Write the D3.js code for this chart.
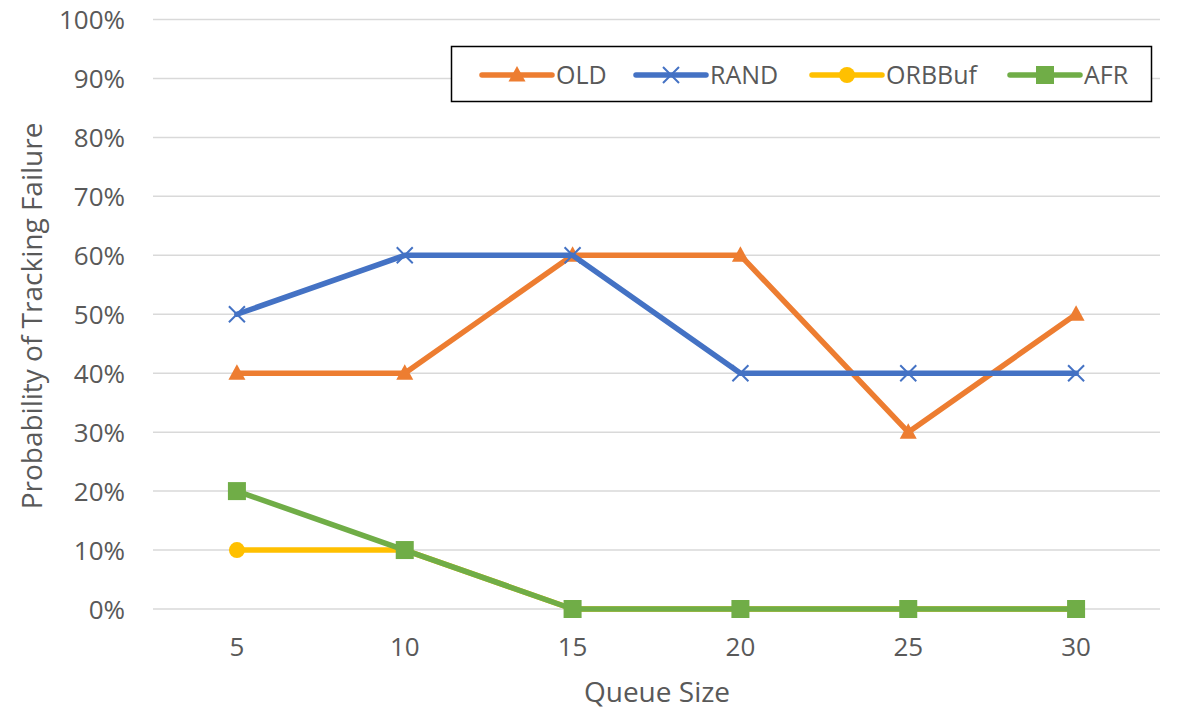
<!DOCTYPE html>
<html>
<head>
<meta charset="utf-8">
<style>
  body { margin: 0; background: #fff; }
  text { font-family: "Open Sans", sans-serif; fill: #595959; }
</style>
</head>
<body>
<div id="chart"></div>
<script src="https://d3js.org/d3.v7.min.js"></script>
<script>

// data
let queue_sizes = ["5", "10", "15", "20", "25", "30"];
let old_vals    = [0.4, 0.4, 0.6, 0.6, 0.3, 0.5];
let rand_vals   = [0.5, 0.6, 0.6, 0.4, 0.4, 0.4];
let orbbuf_vals = [0.1, 0.1, 0.0, 0.0, 0.0, 0.0];
let afr_vals    = [0.2, 0.1, 0.0, 0.0, 0.0, 0.0];
let y_ticks     = [0, 0.1, 0.2, 0.3, 0.4, 0.5, 0.6, 0.7, 0.8, 0.9, 1.0];

let series = [
  {name: "OLD",    values: old_vals,    color: "#ED7D31", marker: "triangle"},
  {name: "RAND",   values: rand_vals,   color: "#4472C4", marker: "x"},
  {name: "ORBBuf", values: orbbuf_vals, color: "#FFC000", marker: "circle"},
  {name: "AFR",    values: afr_vals,    color: "#70AD47", marker: "square"}
];

let width = 1194, height = 714;
let margin = {top: 19.5, right: 34, bottom: 105, left: 153};

let svg = d3.select("#chart")
  .append("svg")
    .attr("width", width)
    .attr("height", height);

let x = d3.scaleBand()
  .domain(queue_sizes)
  .range([margin.left, width - margin.right]);

let y = d3.scaleLinear()
  .domain([0, 1])
  .range([height - margin.bottom, margin.top]);

// gridlines
svg.append("g")
  .selectAll("line")
  .data(y_ticks)
  .enter()
  .append("line")
    .attr("x1", margin.left)
    .attr("x2", width - margin.right)
    .attr("y1", d => y(d))
    .attr("y2", d => y(d))
    .attr("stroke", "#D9D9D9")
    .attr("stroke-width", 1.5);

// y axis labels
let y_axis = svg.append("g")
  .attr("transform", "translate(" + (margin.left - 28) + ",0)")
  .call(d3.axisLeft(y).tickValues(y_ticks).tickFormat(d3.format(".0%")).tickSize(0).tickPadding(0));
y_axis.select(".domain").remove();
y_axis.selectAll("text")
  .style("font-size", "26px")
  .style("font-family", "Open Sans, sans-serif")
  .attr("fill", "#595959")
  .attr("dy", "0.35em");

// x axis labels
let x_axis = svg.append("g")
  .attr("transform", "translate(0," + (height - margin.bottom) + ")")
  .call(d3.axisBottom(x).tickSize(0).tickPadding(29));
x_axis.select(".domain").remove();
x_axis.selectAll("text")
  .style("font-size", "26px")
  .style("font-family", "Open Sans, sans-serif")
  .attr("fill", "#595959");

// axis titles
svg.append("text")
  .attr("x", 657)
  .attr("y", 702)
  .attr("text-anchor", "middle")
  .style("font-size", "28px")
  .text("Queue Size");

svg.append("text")
  .attr("transform", "translate(42,316) rotate(-90)")
  .attr("text-anchor", "middle")
  .style("font-size", "28px")
  .text("Probability of Tracking Failure");

// markers
function drawMarker(g, type, color) {
  if (type == "triangle") {
    g.append("path").attr("d", "M0,-9L8.5,6.5L-8.5,6.5Z").attr("fill", color);
  } else if (type == "x") {
    g.append("path").attr("d", "M-8,-8L8,8M-8,8L8,-8")
      .attr("stroke", color).attr("stroke-width", 2).attr("fill", "none");
  } else if (type == "circle") {
    g.append("circle").attr("r", 8).attr("fill", color);
  } else {
    g.append("rect").attr("x", -9).attr("y", -9).attr("width", 18).attr("height", 18).attr("fill", color);
  }
}

let line = d3.line()
  .x((d, i) => x(queue_sizes[i]) + x.bandwidth() / 2)
  .y(d => y(d));

series.forEach(s => {
  let g = svg.append("g");
  g.append("path")
    .attr("d", line(s.values))
    .attr("fill", "none")
    .attr("stroke", s.color)
    .attr("stroke-width", 5.5)
    .attr("stroke-linejoin", "round")
    .attr("stroke-linecap", "round");
  s.values.forEach((v, i) => {
    let m = g.append("g")
      .attr("transform", "translate(" + (x(queue_sizes[i]) + x.bandwidth() / 2) + "," + y(v) + ")");
    drawMarker(m, s.marker, s.color);
  });
});

// legend
let legend = svg.append("g");
legend.append("rect")
  .attr("x", 451.5).attr("y", 46.5)
  .attr("width", 700).attr("height", 55)
  .attr("fill", "#fff")
  .attr("stroke", "#000")
  .attr("stroke-width", 1.5);

let legend_x = [482, 636, 812, 1010];
series.forEach((s, i) => {
  let lg = legend.append("g").attr("transform", "translate(" + legend_x[i] + ",75)");
  lg.append("line")
    .attr("x1", 0).attr("x2", 70)
    .attr("stroke", s.color)
    .attr("stroke-width", 5.5)
    .attr("stroke-linecap", "round");
  drawMarker(lg.append("g").attr("transform", "translate(35,0)"), s.marker, s.color);
  lg.append("text")
    .attr("x", 74)
    .attr("dy", "0.35em")
    .style("font-size", "25px")
    .text(s.name);
});

</script>
</body>
</html>
